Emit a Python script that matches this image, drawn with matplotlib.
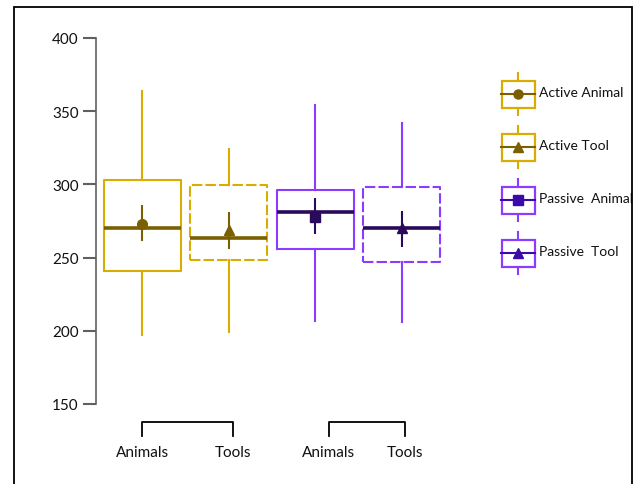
import matplotlib
matplotlib.use("Agg")
import matplotlib.pyplot as plt
from matplotlib.patches import Rectangle

plt.rcParams['font.family'] = ['Lato', 'DejaVu Sans']

# values
labels = ['Active Animal', 'Active Tool', 'Passive  Animal', 'Passive  Tool']
whis_lo = [197, 199, 207, 206]
q1 = [241, 248.6, 256, 247]
medians = [270.5, 263.7, 281, 270]
q3 = [302.7, 299.3, 296, 298]
whis_hi = [364, 324, 354, 342]
means = [273, 269, 278, 270.5]
mean_lo = [261, 256, 266, 257]
mean_hi = [285.6, 281, 290.4, 281.5]

group_ticks = ['Animals', 'Tools', 'Animals', 'Tools']
yticks = [150, 200, 250, 300, 350, 400]

edge_cols = ['#D8AC00', '#D8AC00', '#8C3CFF', '#8C3CFF']
dark_cols = ['#7A6000', '#7A6000', '#2A0A5A', '#2A0A5A']
legend_dark = ['#7A6000', '#7A6000', '#3A0AAA', '#3A0AAA']
markers = ['o', '^', 's', '^']
box_styles = ['-', (0, (5, 1.5)), '-', (0, (5, 1.5))]

W, H = 633, 485
fig = plt.figure(figsize=(W / 100, H / 100), dpi=100)

# outer frame
fig.patches.append(Rectangle((13.5 / W, -0.05), 618 / W, 1.05 - 7.5 / H,
                             transform=fig.transFigure, fill=False,
                             edgecolor='black', lw=1.3))

ax = fig.add_axes([96 / W, 80 / H, 360 / W, 366 / H])
ax.patch.set_alpha(0)

pos = [1, 2, 3, 4]
stats = []
for i in range(4):
    stats.append(dict(med=medians[i], q1=q1[i], q3=q3[i],
                      whislo=whis_lo[i], whishi=whis_hi[i], fliers=[]))

for i in range(4):
    ax.bxp([stats[i]], positions=[pos[i]], widths=0.89, showcaps=False,
           boxprops=dict(color=edge_cols[i], lw=1.5, linestyle=box_styles[i]),
           whiskerprops=dict(color=edge_cols[i], lw=1.5),
           medianprops=dict(color=dark_cols[i], lw=2.6))
    ax.errorbar(pos[i], means[i],
                yerr=[[means[i] - mean_lo[i]], [mean_hi[i] - means[i]]],
                fmt=markers[i], color=dark_cols[i], ms=7, elinewidth=1.5,
                capsize=0, zorder=5)

ax.set_xlim(0.468, 4.63)
ax.set_ylim(150, 400)
ax.set_yticks(yticks)
ax.set_xticks([])
for s in ['top', 'right', 'bottom']:
    ax.spines[s].set_visible(False)
ax.spines['left'].set_color('#606060')
ax.spines['left'].set_linewidth(1.2)
ax.tick_params(axis='y', length=9.5, width=1.5, color='#606060',
               labelsize=11, pad=3, labelcolor='#111111')

# group brackets and category labels below the axis
label_x = [1.0, 2.05, 3.16, 4.04]
for a, b in [(0, 1), (2, 3)]:
    ax.plot([label_x[a], label_x[a], label_x[b], label_x[b]],
            [128.3, 137.7, 137.7, 128.3], color='black', lw=1.3,
            clip_on=False)
for x, t in zip(label_x, group_ticks):
    ax.text(x, 117.5, t, ha='center', va='center', fontsize=11,
            color='#111111', clip_on=False)

# legend with mini box glyphs
lg = fig.add_axes([0, 0, 1, 1])
lg.set_xlim(0, W)
lg.set_ylim(H, 0)
lg.axis('off')
lg.patch.set_alpha(0)
cx = 518
for i, (lab, cy) in enumerate(zip(labels, [95, 148, 201, 254])):
    lg.plot([cx, cx], [cy - 21, cy + 21], color=edge_cols[i], lw=1.5)
    lg.add_patch(Rectangle((502, cy - 13.5), 33, 27, facecolor='white',
                           edgecolor=edge_cols[i], lw=1.6, zorder=3))
    lg.plot([501, 535], [cy, cy], color=legend_dark[i], lw=1.5, zorder=4)
    lg.plot(cx, cy, marker=markers[i], color=legend_dark[i], ms=6.5, zorder=5)
    lg.text(539, cy - 2, lab, ha='left', va='center', fontsize=10,
            color='#111111')

fig.savefig('out.png', dpi=100)
